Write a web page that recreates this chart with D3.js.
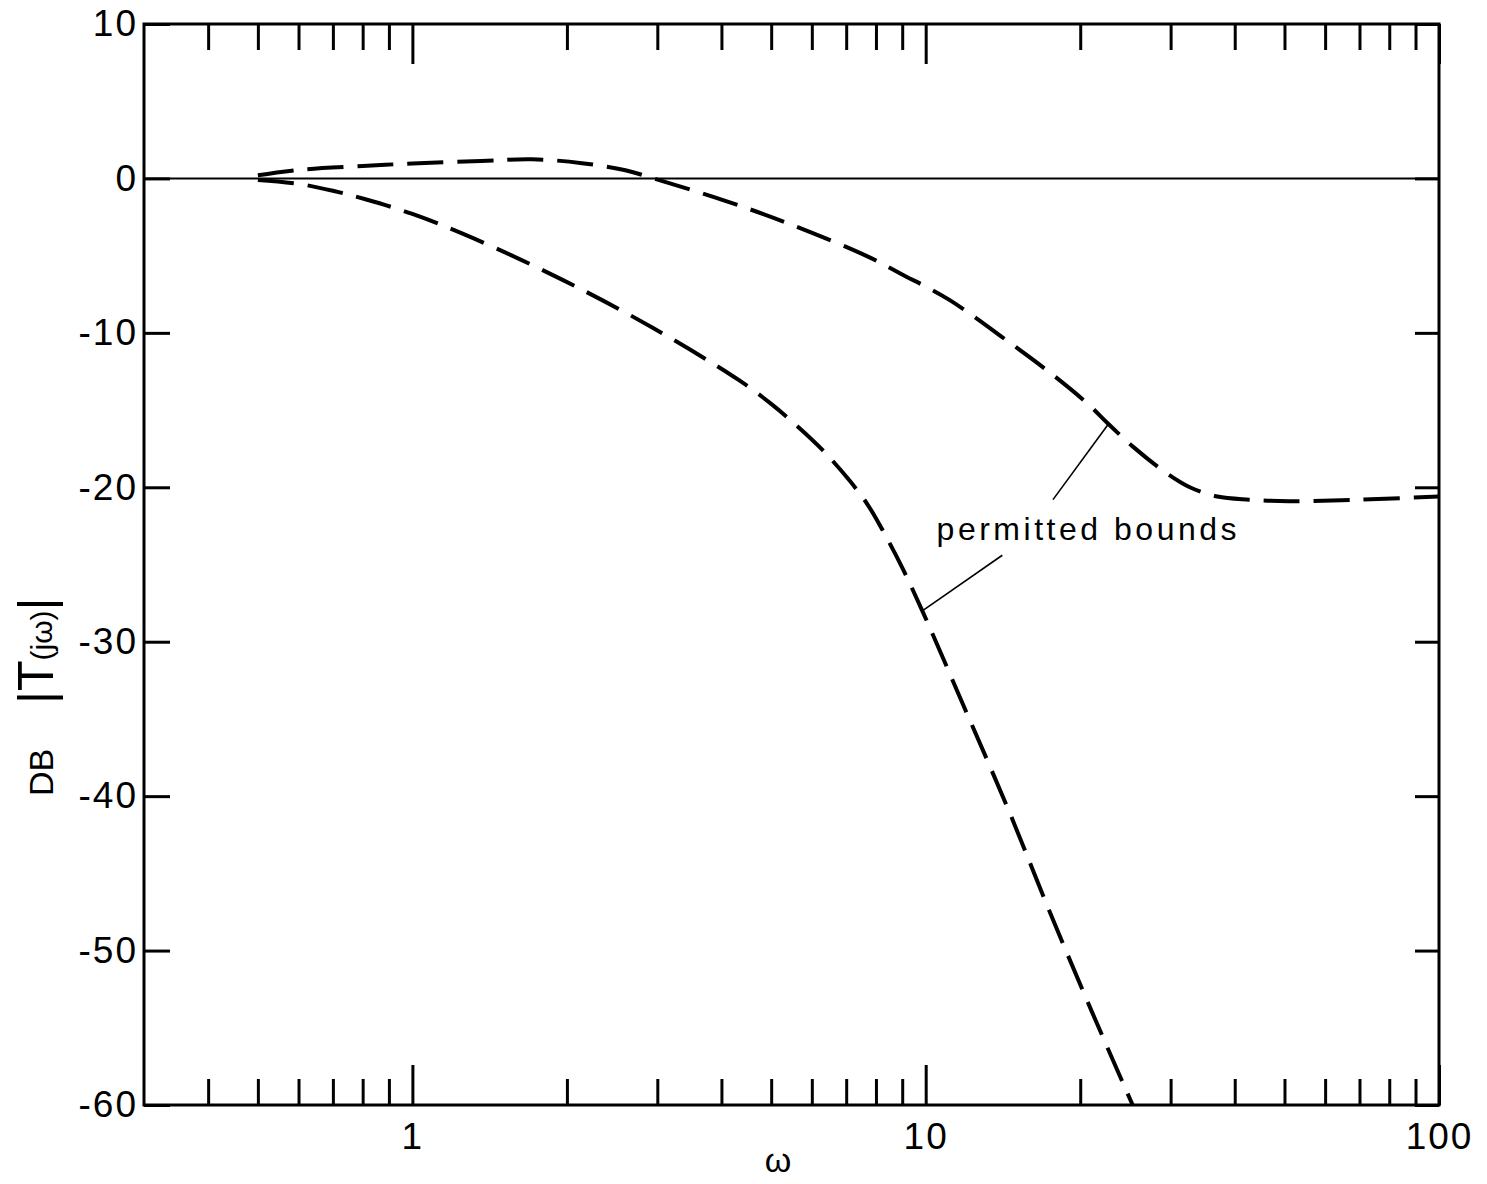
<!DOCTYPE html>
<html><head><meta charset="utf-8">
<script src="https://cdn.jsdelivr.net/npm/d3@7"></script>
<style>
body{margin:0;background:#fff}
svg{display:block}
text{font-family:"Liberation Sans",Arial,sans-serif;fill:#000}
</style>
</head><body><svg id="c" width="1487" height="1184"></svg>
<script>
// ---- data ----
const upperOmega=[0.5,0.61,0.8,1.0,1.36,1.71,2.14,2.6,2.95,4.07,5.43,7.7,8.98,11.1,14.6,17.5,20.7,22.7,25.4,29.5,32.7,37,42.7,51,70,100];
const upperDb=[0.2,0.57,0.8,0.97,1.13,1.24,0.99,0.53,0.0,-1.45,-2.95,-5.05,-6.2,-7.85,-10.65,-12.6,-14.6,-15.9,-17.4,-19.1,-20.0,-20.6,-20.8,-20.9,-20.8,-20.6];
const lowerOmega=[0.5,0.6,0.7,0.81,1.0,1.32,1.97,2.95,4.32,5.0,5.58,6.3,7.08,7.7,8.28,9.0,9.85,11.8,14.5,17.4,21.1,25.3];
const lowerDb=[-0.1,-0.35,-0.8,-1.35,-2.3,-3.9,-6.6,-9.7,-13.05,-14.6,-15.95,-17.6,-19.5,-21.1,-22.9,-25.2,-28.0,-34.0,-40.9,-47.4,-54.0,-60.0];
const zeroLineOmega=[0.3,100];
const zeroLineDb=[0,0];
const yTickValues=[10,0,-10,-20,-30,-40,-50,-60];
const yTickLabels=["10","0","-10","-20","-30","-40","-50","-60"];
const xMajorTicks=[1,10,100];
const xMajorLabels=["1","10","100"];
const xMinorTicks=[0.4,0.5,0.6,0.7,0.8,0.9,2,3,4,5,6,7,8,9,20,30,40,50,60,70,80,90];
const annotationText="permitted bounds";
const annotationAnchor=[10.5,-23.4];
const leaderUpper=[[22.7,-15.9],[17.7,-20.8]];
const leaderLower=[[9.85,-28.0],[14.1,-24.4]];
const xTitle="ω";

// ---- layout ----
const L=144,R=1439,T=24,B=1105;
const svg=d3.select("#c");
const x=d3.scaleLog().domain([0.3,100]).range([L,R]);
const y=d3.scaleLinear().domain([-60,10]).range([B,T]);

function styleAxis(g){
  g.select(".domain").remove();
  g.selectAll(".tick line").attr("stroke","#000").attr("stroke-width",3);
  g.selectAll(".tick text").attr("font-size",37).attr("letter-spacing",2)
   .style("font-family","'Liberation Sans',Arial,sans-serif").attr("fill","#000");
}

// zero line
svg.append("path")
  .datum(zeroLineOmega.map((w,i)=>[w,zeroLineDb[i]]))
  .attr("fill","none").attr("stroke","#000").attr("stroke-width",2)
  .attr("d",d3.line().x(d=>x(d[0])).y(d=>y(d[1])));

// bottom axis
svg.append("g").attr("transform",`translate(0,${B})`)
  .call(d3.axisBottom(x).tickValues(xMajorTicks).tickSize(-40).tickPadding(18)
    .tickFormat((d,i)=>xMajorLabels[i])).call(styleAxis);
svg.append("g").attr("transform",`translate(0,${B})`)
  .call(d3.axisBottom(x).tickValues(xMinorTicks).tickSize(-26).tickFormat(""))
  .call(styleAxis);
// top axis
svg.append("g").attr("transform",`translate(0,${T})`)
  .call(d3.axisTop(x).tickValues(xMajorTicks).tickSize(-40).tickFormat(""))
  .call(styleAxis);
svg.append("g").attr("transform",`translate(0,${T})`)
  .call(d3.axisTop(x).tickValues(xMinorTicks).tickSize(-26).tickFormat(""))
  .call(styleAxis);
// left axis
svg.append("g").attr("transform",`translate(${L},0)`)
  .call(d3.axisLeft(y).tickValues(yTickValues).tickSize(-26).tickPadding(6)
    .tickFormat((d,i)=>yTickLabels[i])).call(styleAxis);
// right axis
svg.append("g").attr("transform",`translate(${R},0)`)
  .call(d3.axisRight(y).tickValues(yTickValues).tickSize(-24).tickFormat(""))
  .call(styleAxis);

// frame
svg.append("rect").attr("x",L).attr("y",T).attr("width",R-L).attr("height",B-T)
  .attr("fill","none").attr("stroke","#000").attr("stroke-width",3);

// curves
const line=d3.line().x(d=>x(d[0])).y(d=>y(d[1])).curve(d3.curveCatmullRom.alpha(0.5));
[[upperOmega,upperDb],[lowerOmega,lowerDb]].forEach(([w,db])=>{
  svg.append("path").datum(w.map((v,i)=>[v,db[i]]))
    .attr("fill","none").attr("stroke","#000").attr("stroke-width",4)
    .attr("stroke-dasharray","36,14").attr("d",line);
});

// annotation
[leaderUpper,leaderLower].forEach(seg=>{
  svg.append("line").attr("x1",x(seg[0][0])).attr("y1",y(seg[0][1]))
    .attr("x2",x(seg[1][0])).attr("y2",y(seg[1][1]))
    .attr("stroke","#000").attr("stroke-width",1.6);
});
svg.append("text").attr("x",x(annotationAnchor[0])).attr("y",y(annotationAnchor[1]))
  .attr("font-size",32).attr("textLength",300).attr("lengthAdjust","spacing")
  .text(annotationText);

// axis titles
svg.append("text").attr("x",778).attr("y",1172).attr("text-anchor","middle")
  .attr("font-size",34).text(xTitle);
const yt=svg.append("text").attr("transform","translate(53,796) rotate(-90)");
yt.append("tspan").attr("x",0).attr("font-size",34).text("DB");
yt.append("tspan").attr("x",92).attr("font-size",50).text("|T");
yt.append("tspan").attr("font-size",30).attr("dy",-1).text("(jω)");
yt.append("tspan").attr("font-size",50).attr("dy",1).text("|");
</script>
</body></html>
